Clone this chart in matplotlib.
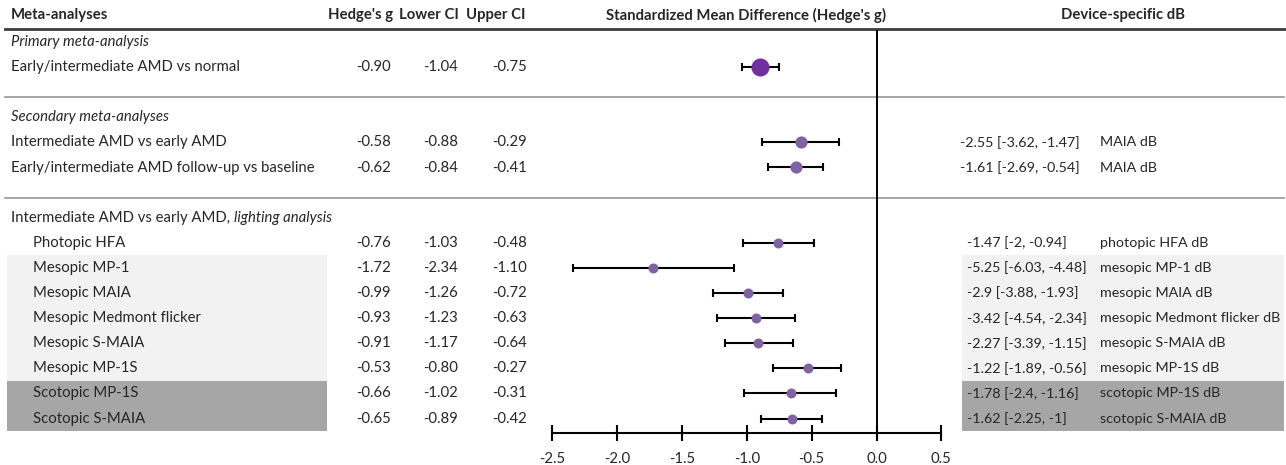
import matplotlib
matplotlib.use("Agg")
import matplotlib.pyplot as plt
from matplotlib.transforms import blended_transform_factory

plt.rcParams["font.family"] = ["Lato", "DejaVu Sans"]

FIG_W, FIG_H = 1286, 465
TEXT_COLOUR = "#262626"
FONT_SIZE = 10.7
RIGHT_FONT_SIZE = 10.3

# ---- data ----
primary_labels = ["Early/intermediate AMD vs normal"]
primary_g = [-0.90]
primary_lower = [-1.04]
primary_upper = [-0.75]
primary_db = [""]
primary_device = [""]

secondary_labels = ["Intermediate AMD vs early AMD",
                    "Early/intermediate AMD follow-up vs baseline"]
secondary_g = [-0.58, -0.62]
secondary_lower = [-0.88, -0.84]
secondary_upper = [-0.29, -0.41]
secondary_db = ["-2.55 [-3.62, -1.47]", "-1.61 [-2.69, -0.54]"]
secondary_device = ["MAIA dB", "MAIA dB"]

lighting_labels = ["Photopic HFA", "Mesopic MP-1", "Mesopic MAIA",
                   "Mesopic Medmont flicker", "Mesopic S-MAIA", "Mesopic MP-1S",
                   "Scotopic MP-1S", "Scotopic S-MAIA"]
lighting_g = [-0.76, -1.72, -0.99, -0.93, -0.91, -0.53, -0.66, -0.65]
lighting_lower = [-1.03, -2.34, -1.26, -1.23, -1.17, -0.80, -1.02, -0.89]
lighting_upper = [-0.48, -1.10, -0.72, -0.63, -0.64, -0.27, -0.31, -0.42]
lighting_db = ["-1.47 [-2, -0.94]", "-5.25 [-6.03, -4.48]", "-2.9 [-3.88, -1.93]",
               "-3.42 [-4.54, -2.34]", "-2.27 [-3.39, -1.15]", "-1.22 [-1.89, -0.56]",
               "-1.78 [-2.4, -1.16]", "-1.62 [-2.25, -1]"]
lighting_device = ["photopic HFA dB", "mesopic MP-1 dB", "mesopic MAIA dB",
                   "mesopic Medmont flicker dB", "mesopic S-MAIA dB", "mesopic MP-1S dB",
                   "scotopic MP-1S dB", "scotopic S-MAIA dB"]
lighting_shade = ["none", "light", "light", "light", "light", "light", "dark", "dark"]

axis_ticks = [-2.5, -2.0, -1.5, -1.0, -0.5, 0.0, 0.5]

# ---- layout (pixels) ----
PITCH = 25.1
ZERO_PX = 876.5
PX_PER_UNIT = 129.7
AXIS_Y = 433
HEADER_Y = 15
HEADER_LINE_Y = 29

SHADE = {"light": "#f2f2f2", "dark": "#a6a6a6"}


def fx(px):
    return px / FIG_W


fig = plt.figure(figsize=(FIG_W / 100, FIG_H / 100), dpi=100)
ax = fig.add_axes([0, 0, 1, 1])
ax.set_xlim(-ZERO_PX / PX_PER_UNIT, (FIG_W - ZERO_PX) / PX_PER_UNIT)
ax.set_ylim(FIG_H, 0)
ax.patch.set_alpha(0)
tr = blended_transform_factory(ax.transAxes, ax.transData)

txt = dict(transform=tr, fontsize=FONT_SIZE, color=TEXT_COLOUR, va="center")
rtxt = dict(txt, fontsize=RIGHT_FONT_SIZE)

# headers
ax.text(fx(11), HEADER_Y, "Meta-analyses", fontweight="bold", ha="left", **txt)
ax.text(fx(393), HEADER_Y, "Hedge's g", fontweight="bold", ha="right", **txt)
ax.text(fx(459), HEADER_Y, "Lower CI", fontweight="bold", ha="right", **txt)
ax.text(fx(526), HEADER_Y, "Upper CI", fontweight="bold", ha="right", **txt)
ax.text(fx(746), HEADER_Y, "Standardized Mean Difference (Hedge's g)",
        fontweight="bold", ha="center", **txt)
ax.text(fx(1123), HEADER_Y, "Device-specific dB", fontweight="bold", ha="center", **txt)
ax.axhline(HEADER_LINE_Y, xmin=fx(5), xmax=fx(1285), color="#3c3c3c", lw=2.0)

sections = [
    ("Primary meta-analysis", primary_labels, primary_g, primary_lower, primary_upper,
     primary_db, primary_device, ["none"], "#7030a0", 13.0, 11, 960),
    ("Secondary meta-analyses", secondary_labels, secondary_g, secondary_lower,
     secondary_upper, secondary_db, secondary_device, ["none"] * 2, "#8064a2", 8.8, 11, 960),
    (None, lighting_labels, lighting_g, lighting_lower, lighting_upper,
     lighting_db, lighting_device, lighting_shade, "#8064a2", 7.2, 33, 967),
]

y = 42.0
for i, (title, labels, g, lo, hi, db, dev, shade, colour, msize, lx, dbx) in enumerate(sections):
    if title is not None:
        ax.text(fx(11), y, title, style="italic", ha="left", **txt)
    else:
        t = ax.text(fx(11), y, "Intermediate AMD vs early AMD, ", ha="left", **txt)
        ax.annotate("lighting analysis", xy=(1, 0), xycoords=t, va="bottom", ha="left",
                    style="italic", fontsize=FONT_SIZE, color=TEXT_COLOUR)
    ys = [y + PITCH * (k + 1) for k in range(len(labels))]
    for k, yy in enumerate(ys):
        if shade[k] != "none":
            ax.axhspan(yy - PITCH / 2, yy + PITCH / 2, xmin=fx(7), xmax=fx(327),
                       color=SHADE[shade[k]], lw=0, zorder=0)
            ax.axhspan(yy - PITCH / 2, yy + PITCH / 2, xmin=fx(962), xmax=fx(1284),
                       color=SHADE[shade[k]], lw=0, zorder=0)
        ax.text(fx(lx), yy, labels[k], ha="left", **txt)
        ax.text(fx(391), yy, f"{g[k]:.2f}", ha="right", **txt)
        ax.text(fx(458), yy, f"{lo[k]:.2f}", ha="right", **txt)
        ax.text(fx(527), yy, f"{hi[k]:.2f}", ha="right", **txt)
        if db[k]:
            ax.text(fx(dbx), yy, db[k], ha="left", **rtxt)
            ax.text(fx(1100), yy, dev[k], ha="left", **rtxt)
    xerr = [[gi - li for gi, li in zip(g, lo)], [hi_ - gi for gi, hi_ in zip(g, hi)]]
    ax.errorbar(g, ys, xerr=xerr, fmt="none", ecolor="black", elinewidth=1.5,
                capsize=2.6, capthick=1.5, zorder=3)
    ax.plot(g, ys, "o", color=colour, markersize=msize, markeredgewidth=0, zorder=4)
    if i < len(sections) - 1:
        ax.axhline(ys[-1] + 30, xmin=fx(5), xmax=fx(1284), color="#8c8c8c", lw=1.1)
        y = ys[-1] + 2 * PITCH

# zero line
ax.vlines(0, HEADER_LINE_Y + 1, AXIS_Y, color="black", lw=1.4, zorder=2)

# bottom scale
for side in ["left", "right", "top"]:
    ax.spines[side].set_visible(False)
ax.spines["bottom"].set_position(("data", AXIS_Y))
ax.spines["bottom"].set_bounds(axis_ticks[0], axis_ticks[-1])
ax.spines["bottom"].set_linewidth(1.5)
ax.set_xticks(axis_ticks)
ax.set_xticklabels([f"{t:.1f}" for t in axis_ticks])
ax.tick_params(axis="x", direction="inout", length=12, width=1.5, pad=8,
               labelsize=FONT_SIZE, labelcolor=TEXT_COLOUR)
ax.set_yticks([])

fig.savefig("out.png", dpi=100)
